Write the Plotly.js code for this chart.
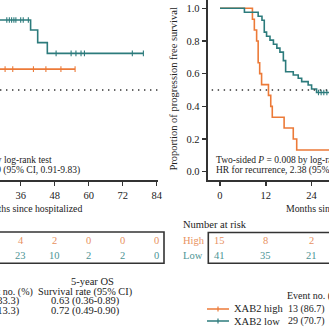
<!DOCTYPE html>
<html>
<head>
<meta charset="utf-8">
<script src="https://cdn.plot.ly/plotly-3.0.1.min.js"></script>
<style>html,body{margin:0;padding:0;background:#fff;}#chart{width:329px;height:329px;}</style>
</head>
<body>
<div id="chart"></div>
<script>
// ---------- DATA ----------
// Left panel: overall survival (visible part only; months since hospitalized)
const osHighTimes = [24, 55.2];
const osHighSurv  = [0.628, 0.628];
const osHighCensor = [30.5, 33.2, 40.5, 44.9, 50.2, 55.2];
const osLowTimes = [24, 39.5, 42.0, 45.4, 79.3];
const osLowSurv  = [0.928, 0.867, 0.790, 0.724, 0.724];
const osLowCensor = [31.1, 32.0, 32.8, 33.6, 34.3, 36.0, 36.9, 38.7, 48.5, 53.8, 55.5, 57.3, 58.5, 75.4, 79.3];
const osRiskMonths = [36, 48, 60, 72, 84];
const osRiskHigh = [4, 2, 0, 0, 0];
const osRiskLow  = [23, 10, 2, 2, 0];

// Right panel: progression free survival
const pfsHighTimes = [0, 8.5, 9.0, 9.6, 10.0, 10.4, 10.9, 12.7, 13.3, 13.7, 16.8, 19.2, 20.1, 29];
const pfsHighSurv  = [1, 0.933, 0.867, 0.800, 0.667, 0.600, 0.533, 0.467, 0.400, 0.333, 0.267, 0.200, 0.133, 0.133];
const pfsLowTimes = [0, 6.4, 10.0, 11.0, 11.6, 12.2, 13.1, 14.0, 14.9, 15.7, 16.6, 17.2, 19.2, 20.5, 21.4, 23.1, 24.0, 25.3, 29];
const pfsLowSurv  = [1, 0.976, 0.951, 0.927, 0.854, 0.829, 0.805, 0.780, 0.756, 0.732, 0.680, 0.612, 0.592, 0.572, 0.551, 0.531, 0.506, 0.485, 0.485];
const pfsLowCensor = [25.8, 26.5, 27.2, 28.0];
const pfsHighCensor = [];
const pfsRiskMonths = [0, 12, 24];
const pfsRiskHigh = [15, 8, 2];
const pfsRiskLow  = [41, 35, 21];

const medianLevel = 0.5;
const xTicksOS = [36, 48, 60, 72, 84];
const xTicksPFS = [0, 12, 24, 36];
const yTicks = [0, 0.2, 0.4, 0.6, 0.8, 1.0];

// ---------- STYLE ----------
const W = 329, H = 329;
const ORANGE = '#ec7a38', TEAL = '#2c7b7c';
const ORANGE_T = '#e8925f', TEAL_T = '#4d9595';
const FONT = 'Liberation Serif, Times New Roman, serif';
const TXT = '#222';
const px = p => p / W;
const py = p => 1 - p / H;

function stepAt(times, surv, t) {
  let v = surv[0];
  for (let i = 0; i < times.length; i++) { if (times[i] <= t) v = surv[i]; }
  return v;
}
function curve(times, surv, color, xa, ya) {
  return {x: times, y: surv, type: 'scatter', mode: 'lines', line: {shape: 'hv', color: color, width: 1.6},
          xaxis: xa, yaxis: ya, hoverinfo: 'skip', showlegend: false, cliponaxis: true};
}
function censor(ct, times, surv, color, xa, ya) {
  return {x: ct, y: ct.map(t => stepAt(times, surv, t)), type: 'scatter', mode: 'markers',
          marker: {symbol: 'line-ns-open', size: 4, color: color, line: {color: color, width: 1.1}},
          xaxis: xa, yaxis: ya, hoverinfo: 'skip', showlegend: false};
}

const traces = [
  curve(osHighTimes, osHighSurv, ORANGE, 'x', 'y'),
  censor(osHighCensor, osHighTimes, osHighSurv, ORANGE, 'x', 'y'),
  curve(osLowTimes, osLowSurv, TEAL, 'x', 'y'),
  censor(osLowCensor, osLowTimes, osLowSurv, TEAL, 'x', 'y'),
  curve(pfsHighTimes, pfsHighSurv, ORANGE, 'x2', 'y2'),
  censor(pfsHighCensor, pfsHighTimes, pfsHighSurv, ORANGE, 'x2', 'y2'),
  curve(pfsLowTimes, pfsLowSurv, TEAL, 'x2', 'y2'),
  censor(pfsLowCensor, pfsLowTimes, pfsLowSurv, TEAL, 'x2', 'y2')
];

const yDom = [py(180), 1];
const yRange = [(171.7 - 180) / 163.4, 171.7 / 163.4];
const axisCommon = {showgrid: false, zeroline: false, showline: true, linecolor: '#333', linewidth: 2,
  ticks: 'outside', ticklen: 4, tickwidth: 1.5, tickcolor: '#333',
  tickfont: {family: FONT, size: 10.5, color: TXT}};

const ann = [];
function A(text, x, y, size, opts) {
  ann.push(Object.assign({text: text, x: px(x), y: py(y), xref: 'paper', yref: 'paper', showarrow: false,
    borderpad: 0, xanchor: 'left', yanchor: 'middle', font: {family: FONT, size: size, color: TXT}}, opts || {}));
}
function tableCell(text, m, xa, y, color) {
  ann.push({text: String(text), x: m, xref: xa, y: py(y), yref: 'paper', showarrow: false, borderpad: 0,
    xanchor: 'center', yanchor: 'middle', font: {family: FONT, size: 10.5, color: color}});
}
// Left panel texts (clipped by frame)
A('Two-sided <i>P</i> = 0.139 by log-rank test', 52.5, 159.5, 9.5, {xanchor: 'right'});
A('HR for death, 2.99 (95% CI, 0.91-9.83)', 80.5, 170.5, 9.5, {xanchor: 'right'});
A('Months since hospitalized', 82.5, 208.5, 9.8, {xanchor: 'right'});
// Right panel texts
A('Two-sided <i>P</i> = 0.008 by log-rank test', 215, 159.5, 9.5);
A('HR for recurrence, 2.38 (95% CI, 1.22-4.64)', 215, 170.5, 9.5);
A('Months since hospitalized', 285, 208.5, 9.8);
A('Proportion of progression free survival', 172.5, 89, 10.5, {xanchor: 'center', textangle: -90});
A('Number at risk', 182, 224.5, 10.5);
A('High', 182, 240.5, 10.5, {font: {family: FONT, size: 10.5, color: ORANGE_T}});
A('Low', 182, 255.5, 10.5, {font: {family: FONT, size: 10.5, color: TEAL_T}});
// Risk tables through the axes' scales
osRiskMonths.forEach((m, i) => {
  tableCell(osRiskHigh[i], m, 'x', 240.5, ORANGE_T);
  tableCell(osRiskLow[i], m, 'x', 255.5, TEAL_T);
});
pfsRiskMonths.forEach((m, i) => {
  tableCell(pfsRiskHigh[i], m, 'x2', 240.5, ORANGE_T);
  tableCell(pfsRiskLow[i], m, 'x2', 255.5, TEAL_T);
});
// Bottom-left summary
A('5-year OS', 92.7, 281.5, 10.5, {xanchor: 'center'});
A('Event no. (%)', 34, 292, 10, {xanchor: 'right'});
A('Survival rate (95% CI)', 85, 292, 10.3, {xanchor: 'center'});
A('5 (33.3)', 20.5, 301, 10.5, {xanchor: 'right'});
A('0.63 (0.36-0.89)', 85, 301, 10.5, {xanchor: 'center'});
A('4 (13.3)', 20.5, 310.5, 10.5, {xanchor: 'right'});
A('0.72 (0.49-0.90)', 85, 310.5, 10.5, {xanchor: 'center'});
// Bottom-right legend
A('Event no. (%)', 286, 295.5, 10);
A('XAB2 high', 233, 308.5, 10.5);
A('XAB2 low', 233, 321, 10.5);
A('13 (86.7)', 287, 308.5, 10);
A('29 (70.7)', 287, 321, 10);

const shapes = [
  // median reference lines
  {type: 'line', xref: 'x domain', yref: 'y', x0: 0, x1: 1, y0: medianLevel, y1: medianLevel, line: {color: '#333', width: 1.4, dash: '1.4px,4.6px'}},
  {type: 'line', xref: 'x2 domain', yref: 'y2', x0: 0.033, x1: 1, y0: medianLevel, y1: medianLevel, line: {color: '#333', width: 1.4, dash: '1.4px,4.6px'}},
  // risk table boxes
  {type: 'rect', xref: 'paper', yref: 'paper', x0: px(-20), x1: px(164), y0: py(263.3), y1: py(232), line: {color: '#333', width: 1.6}},
  {type: 'rect', xref: 'paper', yref: 'paper', x0: px(208.3), x1: px(345), y0: py(263.3), y1: py(232.5), line: {color: '#333', width: 1.6}},
  // legend samples
  {type: 'line', xref: 'paper', yref: 'paper', x0: px(207), x1: px(229), y0: py(309), y1: py(309), line: {color: ORANGE, width: 1.5}},
  {type: 'line', xref: 'paper', yref: 'paper', x0: px(218), x1: px(218), y0: py(306.5), y1: py(311.5), line: {color: ORANGE, width: 1.2}},
  {type: 'line', xref: 'paper', yref: 'paper', x0: px(207), x1: px(229), y0: py(321), y1: py(321), line: {color: TEAL, width: 1.5}},
  {type: 'line', xref: 'paper', yref: 'paper', x0: px(218), x1: px(218), y0: py(318.5), y1: py(323.5), line: {color: TEAL, width: 1.2}}
];

const layout = {
  width: W, height: H, margin: {l: 0, r: 0, t: 0, b: 0, pad: 0},
  paper_bgcolor: '#fff', plot_bgcolor: '#fff', showlegend: false,
  xaxis: Object.assign({}, axisCommon, {domain: [0, px(158)], range: [28.7, 84.46], anchor: 'y', tickvals: xTicksOS}),
  yaxis: {domain: yDom, range: yRange, anchor: 'x', visible: false, showgrid: false, zeroline: false},
  xaxis2: Object.assign({}, axisCommon, {domain: [px(207.7), 1], range: [-3.22, 28.56], anchor: 'y2', tickvals: xTicksPFS}),
  yaxis2: Object.assign({}, axisCommon, {domain: yDom, range: yRange, anchor: 'x2', tickvals: yTicks, tickformat: '.1f'}),
  annotations: ann, shapes: shapes
};

Plotly.newPlot('chart', traces, layout, {staticPlot: true, displayModeBar: false});
</script>
</body>
</html>
